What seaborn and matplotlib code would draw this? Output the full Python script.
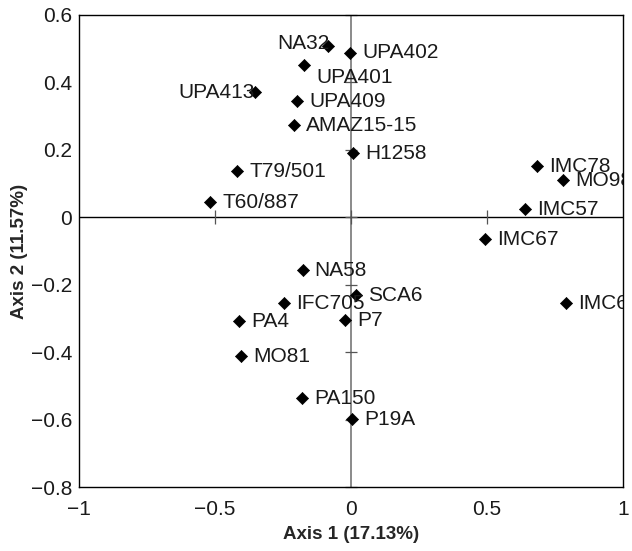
import matplotlib
matplotlib.use("Agg")
import matplotlib.pyplot as plt
import seaborn as sns
import pandas as pd

# accessions and their coordinates on the first two axes
names = ['NA32', 'UPA402', 'UPA401', 'UPA413', 'UPA409', 'AMAZ15-15', 'H1258',
         'T79/501', 'T60/887', 'IMC78', 'MO98', 'IMC57', 'IMC67', 'IMC6',
         'NA58', 'SCA6', 'IFC705', 'PA4', 'P7', 'MO81', 'PA150', 'P19A']
axis1 = [-0.085, -0.004, -0.173, -0.353, -0.199, -0.21, 0.007,
         -0.419, -0.518, 0.684, 0.779, 0.64, 0.493, 0.79,
         -0.178, 0.017, -0.246, -0.412, -0.022, -0.404, -0.18, 0.004]
axis2 = [0.507, 0.487, 0.451, 0.371, 0.344, 0.273, 0.19,
         0.136, 0.045, 0.151, 0.11, 0.024, -0.065, -0.255,
         -0.157, -0.231, -0.255, -0.309, -0.306, -0.412, -0.537, -0.599]

x_ticks = [-1, -0.5, 0, 0.5, 1]
y_ticks = [-0.8, -0.6, -0.4, -0.2, 0, 0.2, 0.4, 0.6]

df = pd.DataFrame({'name': names, 'axis1': axis1, 'axis2': axis2})

sns.set_style('white')
plt.rcParams['font.family'] = ['Liberation Sans', 'DejaVu Sans']

fig = plt.figure(figsize=(6.32, 5.51), dpi=100)
ax = fig.add_axes([0.125, 0.116, 0.861, 0.857])

# axes through the origin
ax.axvline(0, color='#777777', lw=1.2, zorder=1)
ax.axhline(0, color='black', lw=1.0, zorder=1)
# small ticks along the inner axes
ax.plot([0] * len(y_ticks), y_ticks, ls='none', marker='_', ms=9, mew=0.9,
        color='#555555', zorder=1, clip_on=False)
ax.plot([t for t in x_ticks if abs(t) != 1], [0, 0, 0], ls='none', marker='|',
        ms=10, mew=0.9, color='#555555', zorder=1)

sns.scatterplot(data=df, x='axis1', y='axis2', marker='D', s=38,
                color='black', edgecolor='black', ax=ax, zorder=3)

# label placement (offsets in pixels)
left = {'NA32': (2, 3), 'UPA413': (0, 0)}
special = {'UPA401': (12, -12)}
for _, r in df.iterrows():
    if r['name'] in left:
        off, ha = left[r['name']], 'right'
    else:
        off, ha = special.get(r['name'], (12, 0)), 'left'
    ax.annotate(r['name'], (r['axis1'], r['axis2']), xytext=off,
                textcoords='offset pixels', ha=ha, va='center',
                fontsize=15, color='#1a1a1a', annotation_clip=True,
                clip_on=True)

ax.set_xlim(-1, 1)
ax.set_ylim(-0.8, 0.6)
ax.set_xticks(x_ticks)
ax.set_yticks(y_ticks)
ax.set_xticklabels(['\u22121', '\u22120.5', '0', '0.5', '1'])
ax.set_yticklabels(['\u22120.8', '\u22120.6', '\u22120.4', '\u22120.2', '0',
                    '0.2', '0.4', '0.6'])
ax.tick_params(length=0, labelsize=15, labelcolor='#1a1a1a')
ax.tick_params(axis='x', pad=9)
ax.tick_params(axis='y', pad=5)
for s in ax.spines.values():
    s.set_color('black')
    s.set_linewidth(1.0)

ax.set_xlabel('Axis 1 (17.13%)', fontsize=13.5, fontweight='bold', labelpad=5)
ax.set_ylabel('Axis 2 (11.57%)', fontsize=13.5, fontweight='bold', labelpad=2)

fig.savefig('out.png', dpi=100)
